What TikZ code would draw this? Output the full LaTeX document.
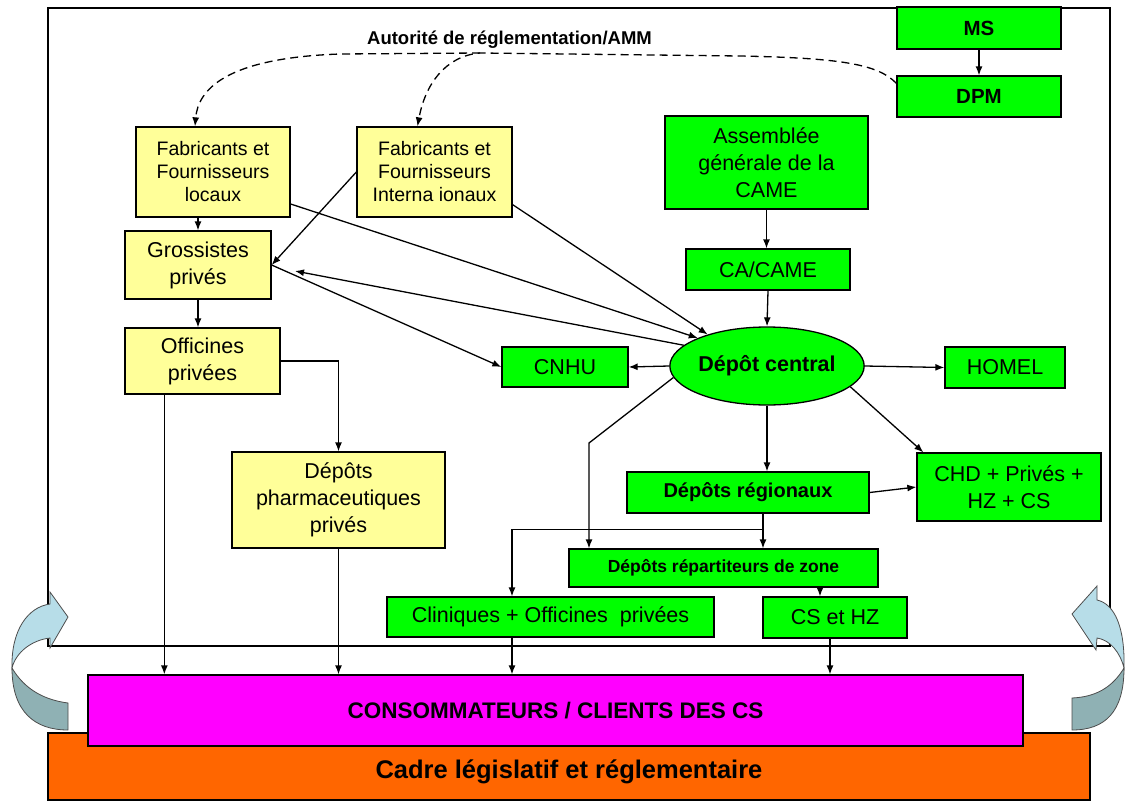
\documentclass[tikz,border=0pt]{standalone}
\usepackage{fontspec}
\setmainfont{Liberation Sans}
\usetikzlibrary{shapes.geometric,arrows.meta}

\definecolor{boxyellow}{HTML}{FFFF99}
\definecolor{boxgreen}{HTML}{00FF00}
\definecolor{consocol}{HTML}{FF00FF}
\definecolor{cadrecol}{HTML}{FF6600}
\definecolor{arrowlight}{HTML}{B7DDE8}
\definecolor{arrowdark}{HTML}{8FB1B4}

\begin{document}
\begin{tikzpicture}[x=1pt,y=-1pt,line width=1.3pt,>={Latex[length=9pt,width=7pt]},
  sz/.style 2 args={minimum width=#1pt,minimum height=#2pt},
  ybox/.style={draw,fill=boxyellow,inner sep=0pt,align=center,font=\fontsize{21.5}{27}\selectfont},
  fbox/.style={ybox,font=\fontsize{19.5}{23}\selectfont},
  gbox/.style={draw,fill=boxgreen,inner sep=0pt,align=center,font=\fontsize{21.5}{27}\selectfont},
  gboxb/.style={gbox,font=\bfseries\fontsize{20.5}{25}\selectfont},
  bigband/.style={draw,inner sep=0pt,align=center,font=\bfseries\fontsize{22.5}{26}\selectfont},
  turnarrow/.style={draw=black!70,line width=0.8pt}]
  \useasboundingbox (0,0) rectangle (1126,800);

  % cadre
  \draw (48,8) rectangle (1110,646);

  % fleches courbes
  \filldraw[turnarrow,fill=arrowlight] (12,668) .. controls (11,630) and (28,607) .. (50,604) -- (50,592) -- (68,617) -- (50,648) -- (50,638) .. controls (32,640) and (16,652) .. (12,668) -- cycle;
  \filldraw[turnarrow,fill=arrowdark] (12,668) .. controls (25,690) and (45,700) .. (68,703) -- (68,730) .. controls (35,730) and (12,712) .. (12,668) -- cycle;
  \filldraw[turnarrow,fill=arrowlight] (1124,668) .. controls (1125,628) and (1115,604) .. (1097,600) -- (1097,586) -- (1072,614) -- (1096,650) -- (1097,638) .. controls (1110,640) and (1120,652) .. (1124,668) -- cycle;
  \filldraw[turnarrow,fill=arrowdark] (1124,668) .. controls (1112,688) and (1095,697) .. (1072,698) -- (1072,730) .. controls (1105,730) and (1124,712) .. (1124,668) -- cycle;

  \node[bigband,fill=cadrecol,sz={1042}{67}] (cadre) at (569,766.5) {\smash{\raisebox{-12pt}{\fontsize{25.5}{28}\selectfont Cadre législatif et réglementaire}}};
  \node[bigband,fill=consocol,sz={935}{71}] (conso) at (555.5,710.5) {CONSOMMATEURS / CLIENTS DES CS};

  \node[gboxb,sz={164}{42}] (ms) at (979,28) {MS};
  \node[gboxb,sz={164}{41}] (dpm) at (979,96.5) {DPM};
  \node[font=\bfseries\fontsize{18.5}{22}\selectfont] (amm) at (509.5,40) {Autorité de réglementation/AMM};

  \node[fbox,sz={154}{90}] (fabloc) at (213,172) {Fabricants et\\Fournisseurs\\locaux};
  \node[fbox,sz={155}{90}] (fabint) at (434.5,172) {Fabricants et\\Fournisseurs\\Interna ionaux};
  \node[gbox,sz={203}{93}] (ag) at (766.5,162.5) {Assemblée\\générale de la\\CAME};
  \node[gbox,sz={164}{41}] (ca) at (768,269.5) {CA/CAME};

  \node[ybox,sz={146}{68}] (gross) at (198,265) {Grossistes\\privés};
  \node[ybox,sz={155}{66}] (offic) at (202.5,361) {Officines\\privées};
  \node[ybox,sz={213}{96}] (depph) at (338.5,500) {Dépôts\\pharmaceutiques\\privés};

  \node[gbox,sz={126}{40}] (cnhu) at (565,367) {CNHU};
  \node[ellipse,draw,fill=boxgreen,inner sep=0pt,sz={184}{78},font=\bfseries\fontsize{21.5}{25}\selectfont] (dc) at (767,366) {Dépôt central};
  \node[gbox,sz={120}{41}] (homel) at (1005,367.5) {HOMEL};

  \node[gboxb,sz={242}{41},font=\bfseries\fontsize{20}{24}\selectfont] (depreg) at (748,492.5) {Dépôts régionaux};
  \node[gbox,sz={184}{68}] (chd) at (1009,487) {CHD + Privés +\\HZ + CS};
  \node[gboxb,sz={309}{38},font=\bfseries\fontsize{17.5}{21}\selectfont] (repart) at (723.5,568) {Dépôts répartiteurs de zone};
  \node[gbox,sz={327}{40}] (clin) at (550.5,617) {Cliniques + Officines\ \ privées};
  \node[gbox,sz={144}{41}] (cshz) at (835,617.5) {CS et HZ};

  % autorite
  \coordinate (split) at (480,53);
  \draw[dashed,dash pattern=on 8pt off 5pt,->] ([yshift=-8pt]dpm.north west) .. controls (878,64) and (840,58) .. (740,56) -- (split) .. controls (445,56) and (425,85) .. ([xshift=-17pt]fabint.north);
  \draw[dashed,dash pattern=on 8pt off 5pt,->] (split) -- (340,54) .. controls (225,58) and (198,90) .. ([xshift=-18pt]fabloc.north);
  \draw[->] (ms) -- (dpm);

  % circuit prive
  \draw[->] (fabloc.south -| gross.north) -- (gross.north);
  \draw[->] (fabint.west) -- (gross.east);
  \draw[->] ([yshift=-32pt]fabloc.east) -- (dc.158);
  \draw[->] ([yshift=13pt]fabint.south east) -- (dc.152);
  \coordinate (grossin) at (295,271);
  \draw[->] (dc.166) -- (grossin);
  \draw[->] (gross.east) -- (cnhu.west);
  \draw[->] (gross.south) -- (gross.south |- offic.north);
  \draw[->] (offic.east) -| (depph.north);
  \coordinate (ofout) at ([xshift=40pt]offic.south west);
  \draw[->] (ofout) -- (ofout |- conso.north);
  \draw[->] (depph.south) -- (depph.south |- conso.north);

  % circuit public
  \draw[->] (ag.south) -- (ag.south |- ca.north);
  \draw[->] (ca.south) -- (dc.north);
  \draw[->] (dc.west) -- (cnhu.east);
  \draw[->] (dc.east) -- (homel.west);
  \draw[->] (dc.south) -- (dc.south |- depreg.north);
  \draw[->] (dc.-14) -- ([xshift=7pt]chd.north west);
  \draw[->] (depreg.east) -- (chd.west);
  \coordinate (dcbend) at (589,443);
  \draw[->] (dc.187) -- (dcbend) -- (dcbend |- repart.north);
  \coordinate (regout) at ([xshift=15pt]depreg.south);
  \coordinate (regsplit) at ([yshift=-16pt]regout);
  \coordinate (clinin) at ([xshift=-38.5pt]clin.north);
  \draw[->] (regout) -- (regout |- repart.north);
  \draw[->] (regsplit) -| (clinin);
  \coordinate (csin) at ([xshift=-15pt]cshz.north);
  \draw[->] (csin |- repart.south) -- (csin);
  \coordinate (clout) at ([xshift=-38.5pt]clin.south);
  \draw[->] (clout) -- (clout |- conso.north);
  \coordinate (csout) at ([xshift=-5pt]cshz.south);
  \draw[->] (csout) -- (csout |- conso.north);
\end{tikzpicture}
\end{document}
